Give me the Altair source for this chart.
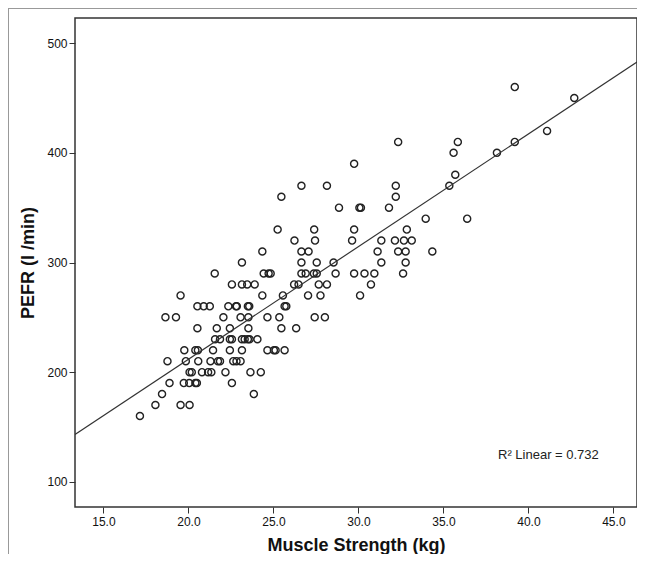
import altair as alt
import pandas as pd

# Muscle strength (kg) and PEFR (l/min)
strength = [
    39.2,
    42.7,
    41.1,
    32.34, 35.85, 39.2,
    35.6, 38.15,
    29.75,
    35.7,
    26.65, 28.15, 32.2, 35.35,
    25.47, 32.2,
    28.86, 30.06, 30.15, 31.8,
    33.96, 36.4,
    25.25, 27.4, 29.75, 32.85,
    26.24, 27.45, 29.63, 31.35, 32.15, 32.68, 33.14,
    24.35, 26.65, 27.07, 31.13, 32.34, 32.78, 34.35,
    23.15, 26.65, 27.55, 28.54, 31.35, 32.78,
    21.55, 24.43, 24.72, 24.84, 26.65, 26.9, 27.38, 27.55, 28.66, 29.75, 30.36, 30.94, 32.63,
    22.56, 23.15, 23.46, 23.9, 26.22, 26.48, 27.67, 28.15, 30.74,
    19.54, 24.35, 25.56, 27.04, 27.77, 30.1,
    20.53, 20.9, 21.26, 22.35, 22.8, 22.85, 23.5, 23.58, 25.66, 25.76,
    18.65, 19.27, 22.06, 23.07, 23.53, 24.65, 25.35, 27.43, 28.03,
    20.53, 21.67, 22.44, 23.53, 25.47, 26.34,
    21.57, 21.86, 22.44, 22.56, 23.15, 23.31, 23.5, 23.6, 24.06,
    19.76, 20.41, 20.56, 21.45, 22.44, 23.15, 24.65, 25.03, 25.13, 25.66,
    18.77, 19.85, 20.58, 21.3, 21.74, 21.86, 22.64, 22.83, 23.07,
    20.07, 20.2, 20.8, 21.16, 21.35, 22.18, 23.65, 24.26,
    18.89, 19.73, 20.05, 20.41, 20.5, 22.56,
    18.45, 23.85,
    18.06, 19.54, 20.07,
    17.15,
]

pefr = (
    [460] * 1 + [450] * 1 + [420] * 1 + [410] * 3 + [400] * 2 + [390] * 1
    + [380] * 1 + [370] * 4 + [360] * 2 + [350] * 4 + [340] * 2 + [330] * 4
    + [320] * 7 + [310] * 7 + [300] * 6 + [290] * 13 + [280] * 9 + [270] * 6
    + [260] * 10 + [250] * 9 + [240] * 6 + [230] * 9 + [220] * 10 + [210] * 9
    + [200] * 8 + [190] * 6 + [180] * 2 + [170] * 3 + [160] * 1
)

x_ticks = [15, 20, 25, 30, 35, 40, 45]
y_ticks = [100, 200, 300, 400, 500]
x_domain = [13.33, 46.39]
y_domain = [77, 523]
annotation = "R\u00b2 Linear = 0.732"

df = pd.DataFrame({"strength": strength, "pefr": pefr})

xs = alt.Scale(domain=x_domain, nice=False, zero=False)
ys = alt.Scale(domain=y_domain, nice=False, zero=False)

base = alt.Chart(df)

points = base.mark_point(
    shape="circle", filled=False, size=50, stroke="#222", strokeWidth=1.4, opacity=1
).encode(
    x=alt.X(
        "strength:Q",
        scale=xs,
        axis=alt.Axis(
            values=x_ticks,
            format=".1f",
            labelPadding=3,
            title="Muscle Strength (kg)",
            titleY=43,
            titleBaseline="alphabetic",
        ),
    ),
    y=alt.Y(
        "pefr:Q",
        scale=ys,
        axis=alt.Axis(
            values=y_ticks,
            labelPadding=2,
            title="PEFR (l /min)",
            titleX=-42,
            titleBaseline="alphabetic",
        ),
    ),
)

fit = base.transform_regression(
    "strength", "pefr", extent=x_domain
).mark_line(color="#333", strokeWidth=1.2, clip=True).encode(
    x=alt.X("strength:Q", scale=xs),
    y=alt.Y("pefr:Q", scale=ys),
)

label = alt.Chart(pd.DataFrame({"t": [annotation]})).mark_text(
    align="left", baseline="middle", font="Liberation Sans", fontSize=13, color="#222"
).encode(x=alt.value(423), y=alt.value(437), text="t:N")

border_left = alt.Chart(pd.DataFrame({"a": [0]})).mark_rule(
    color="#999", strokeWidth=1
).encode(x=alt.value(-66.5), y=alt.value(-10), y2=alt.value(536))

border_top = alt.Chart(pd.DataFrame({"a": [0]})).mark_rule(
    color="#999", strokeWidth=1
).encode(y=alt.value(-9.5), x=alt.value(-67), x2=alt.value(562))

chart = (
    alt.layer(points, fit, label, border_left, border_top)
    .properties(
        width=562,
        height=489,
        autosize=alt.AutoSizeParams(type="none"),
        padding={"left": 67, "top": 10, "right": 0, "bottom": 47},
        background="white",
    )
    .configure_view(stroke="#333", strokeWidth=1.5)
    .configure_axis(
        grid=False,
        domain=False,
        labelFont="Liberation Sans",
        labelFontSize=12,
        labelColor="#111",
        tickColor="#333",
        tickSize=6,
        tickWidth=1,
        titleFont="Liberation Sans",
        titleFontSize=18,
        titleFontWeight="bold",
        titleColor="#111",
    )
)

chart.save("out.html", embed_options={"renderer": "svg", "actions": False})
